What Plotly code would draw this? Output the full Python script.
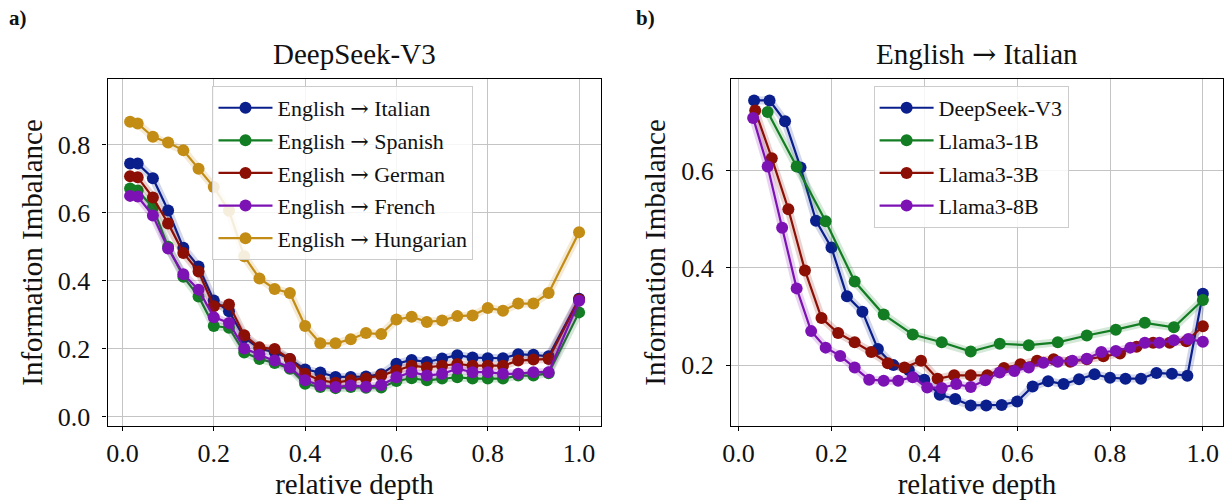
import plotly.graph_objects as go

# ---------------- data ----------------
# relative depth positions
x_ds_a = [1/60] + [k/30 for k in range(1, 29)] + [1.0]
x_ds_b = [k/30 for k in range(1, 30)] + [1.0]
x_l1 = [k/16 for k in range(1, 17)]
x_l3 = [k/28 for k in range(1, 29)]
x_l8 = [k/32 for k in range(1, 33)]

# panel a) DeepSeek-V3, English -> X
italian = [0.745, 0.745, 0.702, 0.607, 0.497, 0.442, 0.342, 0.310, 0.233, 0.200,
           0.190, 0.170, 0.139, 0.130, 0.117, 0.117, 0.118, 0.125, 0.156, 0.167,
           0.161, 0.171, 0.181, 0.174, 0.172, 0.172, 0.184, 0.182, 0.178, 0.347]
spanish = [0.672, 0.666, 0.616, 0.500, 0.412, 0.354, 0.267, 0.262, 0.189, 0.170,
           0.158, 0.141, 0.097, 0.087, 0.084, 0.087, 0.085, 0.086, 0.105, 0.113,
           0.107, 0.112, 0.116, 0.112, 0.112, 0.112, 0.121, 0.121, 0.128, 0.307]
german = [0.708, 0.705, 0.645, 0.569, 0.482, 0.427, 0.325, 0.330, 0.240, 0.204,
          0.199, 0.170, 0.126, 0.107, 0.100, 0.107, 0.112, 0.121, 0.136, 0.150,
          0.145, 0.150, 0.155, 0.150, 0.150, 0.150, 0.165, 0.168, 0.170, 0.345]
french = [0.650, 0.648, 0.592, 0.495, 0.419, 0.374, 0.293, 0.276, 0.201, 0.182,
          0.165, 0.145, 0.107, 0.092, 0.087, 0.092, 0.088, 0.093, 0.116, 0.131,
          0.121, 0.126, 0.141, 0.131, 0.131, 0.126, 0.126, 0.131, 0.131, 0.341]
hungarian = [0.868, 0.863, 0.824, 0.807, 0.784, 0.730, 0.676, 0.606, 0.472, 0.407,
             0.376, 0.364, 0.267, 0.216, 0.216, 0.228, 0.246, 0.243, 0.286, 0.294,
             0.279, 0.283, 0.296, 0.298, 0.320, 0.312, 0.333, 0.333, 0.364, 0.543]

# panel b) English -> Italian, per model
llama1b = [0.721, 0.609, 0.496, 0.372, 0.304, 0.263, 0.247, 0.228, 0.244, 0.241,
           0.247, 0.261, 0.273, 0.287, 0.278, 0.334]
llama3b = [0.724, 0.626, 0.521, 0.395, 0.297, 0.266, 0.247, 0.227, 0.204, 0.195,
           0.209, 0.172, 0.179, 0.179, 0.179, 0.194, 0.202, 0.209, 0.212, 0.207,
           0.212, 0.218, 0.224, 0.238, 0.246, 0.246, 0.249, 0.280]
llama8b = [0.709, 0.609, 0.483, 0.358, 0.270, 0.236, 0.219, 0.195, 0.170, 0.168,
           0.168, 0.175, 0.154, 0.153, 0.161, 0.155, 0.169, 0.185, 0.188, 0.195,
           0.205, 0.207, 0.209, 0.213, 0.227, 0.229, 0.236, 0.246, 0.246, 0.251,
           0.254, 0.248]

ARROW = "<span style='font-family:DejaVu Serif'>→</span>"
names_a = ["English " + ARROW + " Italian", "English " + ARROW + " Spanish",
           "English " + ARROW + " German", "English " + ARROW + " French",
           "English " + ARROW + " Hungarian"]
names_b = ["DeepSeek-V3", "Llama3-1B", "Llama3-3B", "Llama3-8B"]
title_a = "DeepSeek-V3"
title_b = "English " + ARROW + " Italian"
x_ticks = [0.0, 0.2, 0.4, 0.6, 0.8, 1.0]
y_ticks_a = [0.0, 0.2, 0.4, 0.6, 0.8]
y_ticks_b = [0.2, 0.4, 0.6]

# ---------------- style ----------------
BLUE, GREEN, RED, PURPLE, GOLD = "#0a1f8c", "#137d23", "#8c0f05", "#7d12b4", "#c38c14"
FONT = "Liberation Serif"

def rgba(hexc, a):
    h = hexc.lstrip("#")
    return "rgba(%d,%d,%d,%.2f)" % (int(h[0:2], 16), int(h[2:4], 16), int(h[4:6], 16), a)

fig = go.Figure()

def add_series(x, y, name, color, xa, ya, legend, group):
    fig.add_trace(go.Scatter(x=x, y=y, mode="lines", xaxis=xa, yaxis=ya,
                             line=dict(color=rgba(color, 0.18), width=8),
                             showlegend=False, hoverinfo="skip"))
    fig.add_trace(go.Scatter(x=x, y=y, mode="lines+markers", name=name,
                             xaxis=xa, yaxis=ya, legend=legend, legendgroup=group,
                             line=dict(color=color, width=2.2),
                             marker=dict(color=color, size=12)))

series_a = [italian, spanish, german, french, hungarian]
colors_a = [BLUE, GREEN, RED, PURPLE, GOLD]
for i, (vals, nm, c) in enumerate(zip(series_a, names_a, colors_a)):
    add_series(x_ds_a, vals, nm, c, "x", "y", "legend", "a%d" % i)

series_b = [(x_ds_b, italian), (x_l1, llama1b), (x_l3, llama3b), (x_l8, llama8b)]
colors_b = [BLUE, GREEN, RED, PURPLE]
for i, ((xs, vals), nm, c) in enumerate(zip(series_b, names_b, colors_b)):
    add_series(xs, vals, nm, c, "x2", "y2", "legend2", "b%d" % i)

W, H = 1225, 500
ax_common = dict(showline=True, linecolor="black", linewidth=1.2, mirror=True,
                 ticks="outside", ticklen=4, tickcolor="black",
                 showgrid=True, gridcolor="#c4c4c4", gridwidth=1.2,
                 zeroline=False, tickfont=dict(family=FONT, size=26, color="#111"),
                 tickformat=".1f")
xt = dict(text="relative depth", font=dict(family=FONT, size=29, color="#111"), standoff=4)
yt = dict(text="Information Imbalance", font=dict(family=FONT, size=29, color="#111"), standoff=6)
leg = dict(yanchor="top", xanchor="left", bgcolor="rgba(255,255,255,0.85)",
           bordercolor="#cccccc", borderwidth=1, itemwidth=54,
           font=dict(family=FONT, size=22, color="#111"), tracegroupgap=1)

fig.update_layout(
    width=W, height=H, margin=dict(l=0, r=0, t=0, b=0),
    paper_bgcolor="white", plot_bgcolor="white",
    font=dict(family=FONT, color="#111"),
    xaxis=dict(domain=[99.3/W, 596.7/W], range=[-0.0326, 1.0487], tickvals=x_ticks,
               anchor="y", title=xt, **ax_common),
    yaxis=dict(domain=[(H-431)/H, (H-80)/H], range=[-0.027, 0.994], tickvals=y_ticks_a,
               anchor="x", title=yt, ticklabelstandoff=7, **ax_common),
    xaxis2=dict(domain=[727.3/W, 1223/W], range=[-0.0165, 1.0434], tickvals=x_ticks,
                anchor="y2", title=xt, **ax_common),
    yaxis2=dict(domain=[(H-431)/H, (H-80)/H], range=[0.075, 0.789], tickvals=y_ticks_b,
                anchor="x2", title=yt, ticklabelstandoff=7, **ax_common),
    legend=dict(x=205/W, y=(H-87)/H, **leg),
    legend2=dict(x=871/W, y=(H-87)/H, **leg),
    annotations=[
        dict(text=title_a, x=(99.3+596.7)/2/W, y=(H-55)/H, xref="paper", yref="paper",
             xanchor="center", yanchor="middle",
             showarrow=False, font=dict(family=FONT, size=29, color="#111")),
        dict(text=title_b, x=(727.3+1223)/2/W, y=(H-55)/H, xref="paper", yref="paper",
             xanchor="center", yanchor="middle",
             showarrow=False, font=dict(family=FONT, size=29, color="#111")),
        dict(text="<b>a)</b>", x=0, y=(H-18)/H, xref="paper", yref="paper",
             xanchor="left", yanchor="middle", xshift=-2,
             showarrow=False, font=dict(family=FONT, size=21, color="#111")),
        dict(text="<b>b)</b>", x=630/W, y=(H-18)/H, xref="paper", yref="paper",
             xanchor="left", yanchor="middle",
             showarrow=False, font=dict(family=FONT, size=21, color="#111")),
    ],
)

fig.write_html("out.html")
